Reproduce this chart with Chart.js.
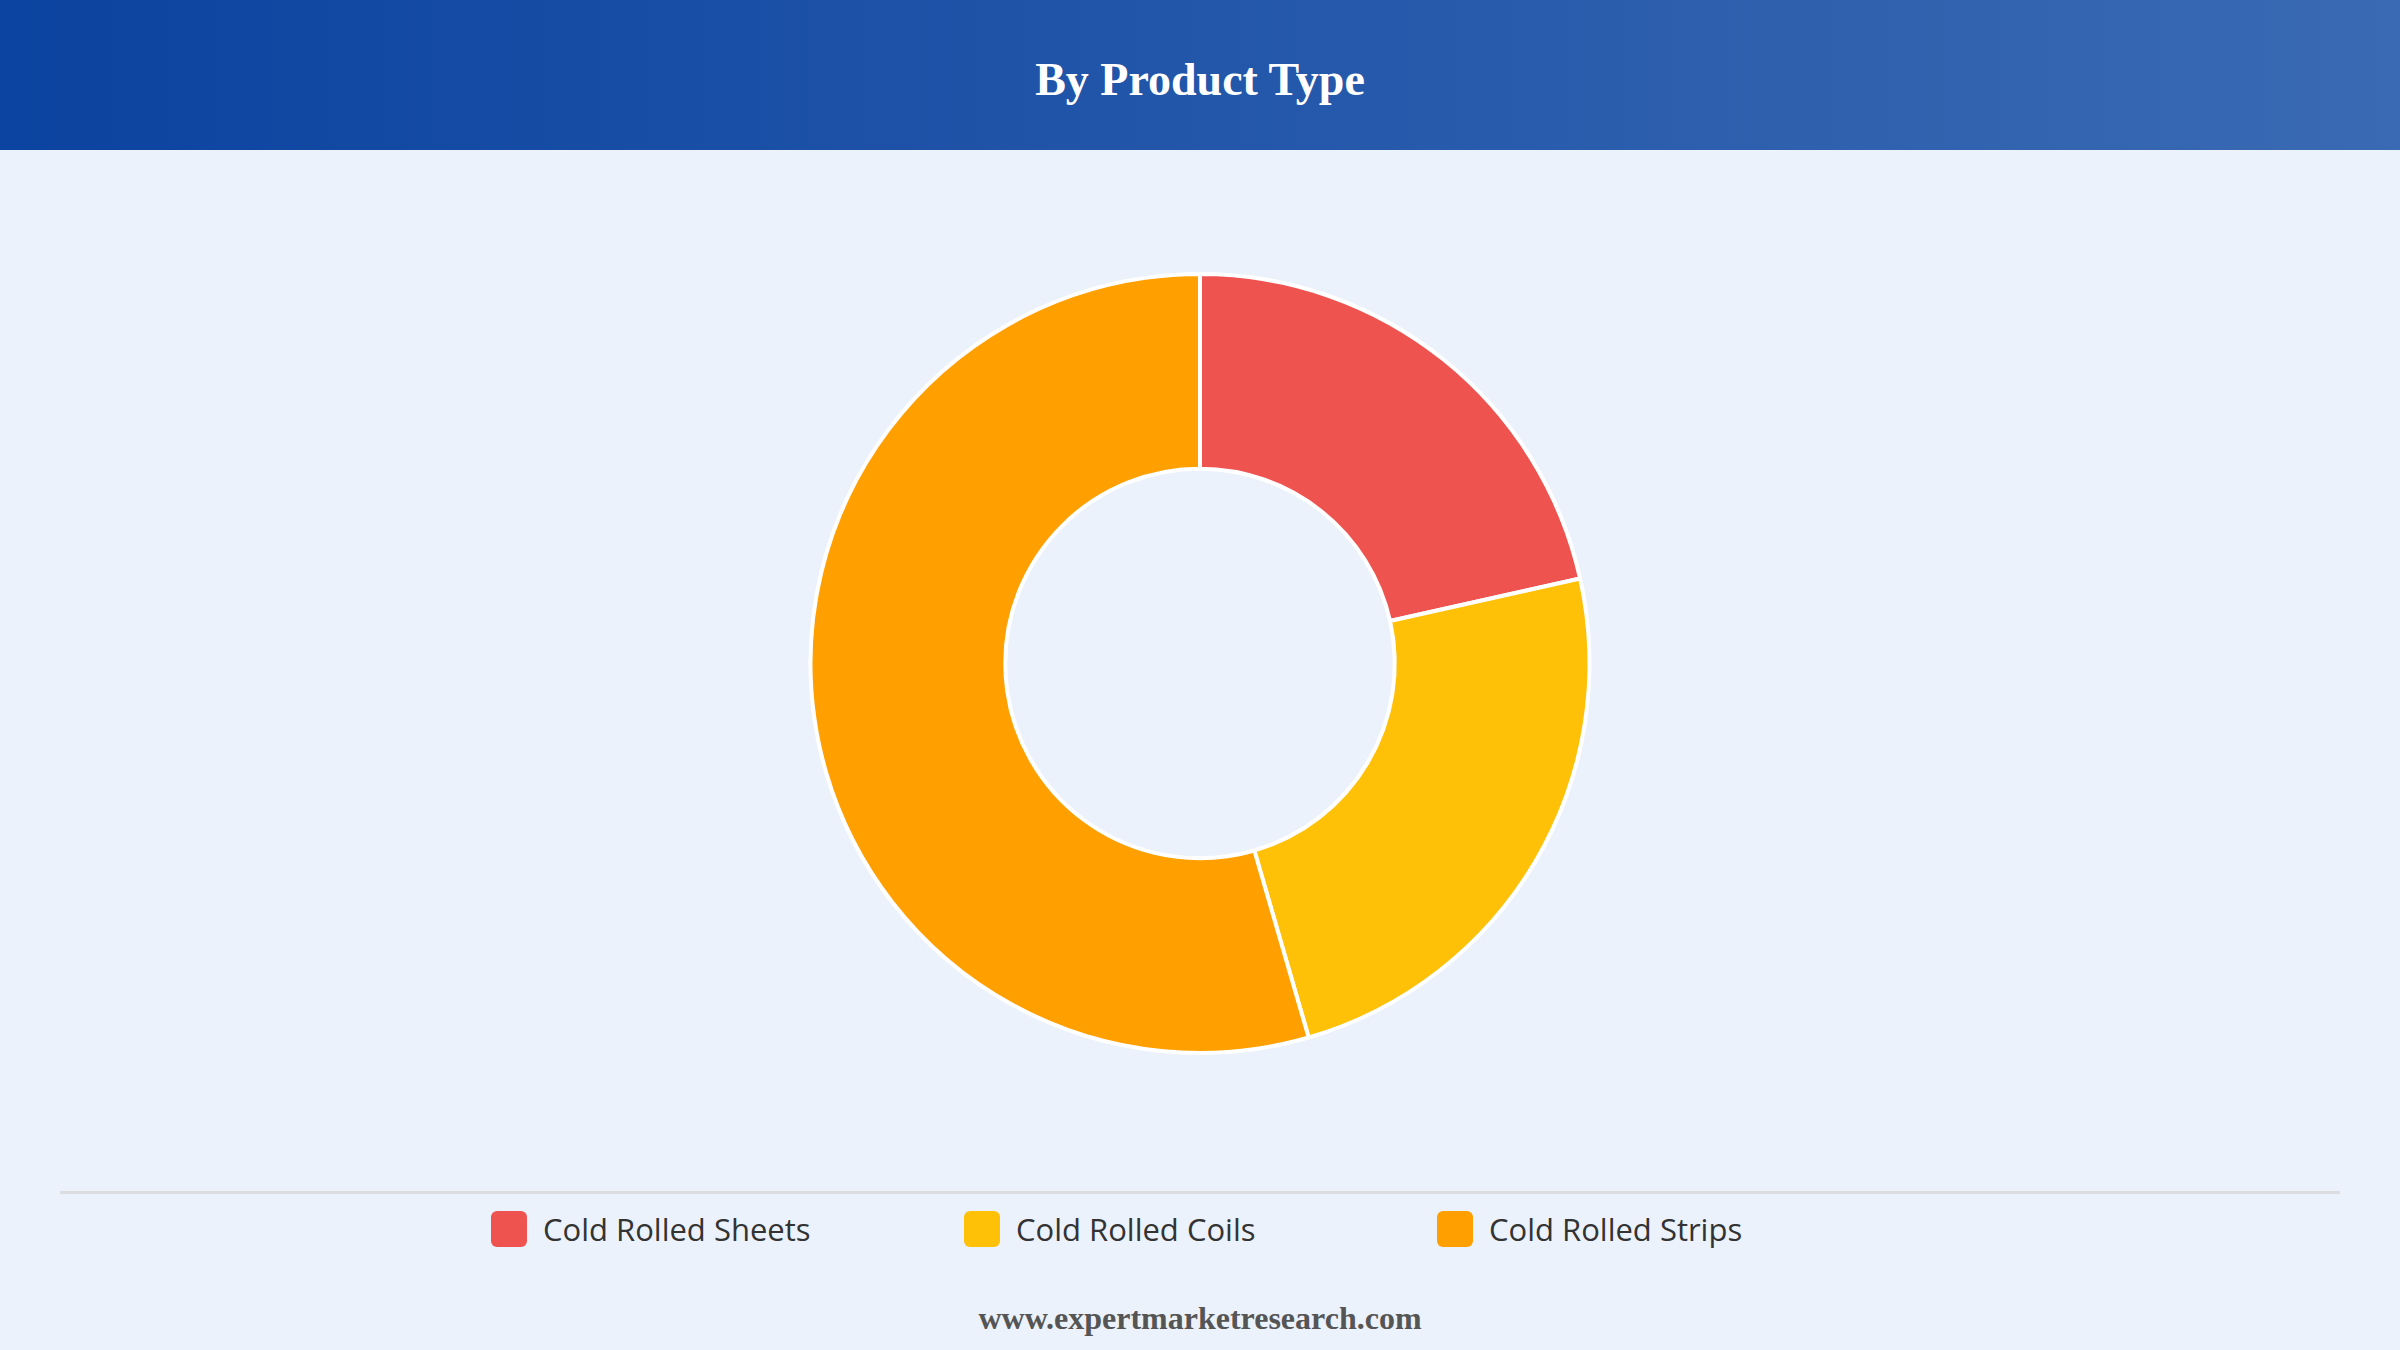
<!DOCTYPE html>
<html><head><meta charset="utf-8">
<script src="https://cdn.jsdelivr.net/npm/chart.js@4"></script>
<style>
html,body{margin:0;padding:0;width:2400px;height:1350px;background:#EBF2FB;overflow:hidden;font-family:"Liberation Serif",serif;}
#hdr{position:absolute;left:0;top:0;width:2400px;height:150px;background:linear-gradient(90deg,#0B43A0,#3A6AB3);color:#fff;font-weight:bold;font-size:46px;text-align:center;line-height:160px;}
#wrap{position:absolute;left:0;top:272px;width:2400px;height:783px;}
#sep{position:absolute;left:60px;top:1191px;width:2280px;height:3px;background:#dcdde0;}
#leg{position:absolute;left:0;top:1208px;width:2400px;height:42px;}
.it{position:absolute;top:0;height:42px;display:flex;align-items:center;font-family:"Open Sans",sans-serif;font-size:31px;color:#333;white-space:nowrap;}
.bx{width:36px;height:36px;border-radius:6px;margin-right:16px;}
#ftr{position:absolute;left:0;top:1300px;width:2400px;text-align:center;font-weight:bold;font-size:32px;color:#555;}
</style></head><body>
<div id="hdr">By Product Type</div>
<div id="wrap"><canvas id="c"></canvas></div>
<div id="sep"></div>
<div id="leg"></div>
<div id="ftr">www.expertmarketresearch.com</div>
<script>
const categories=["Cold Rolled Sheets","Cold Rolled Coils","Cold Rolled Strips"];
const values=[21.5,24,54.5];
const colors=["#EF5350","#FFC107","#FFA000"];
const legX=[491,964,1437];
const leg=document.getElementById('leg');
categories.forEach((c,i)=>{const d=document.createElement('div');d.className='it';d.style.left=legX[i]+'px';
d.innerHTML='<div class="bx" style="background:'+colors[i]+'"></div><span>'+c+'</span>';leg.appendChild(d);});
new Chart(document.getElementById('c'),{
type:'doughnut',
data:{labels:categories,datasets:[{data:values,backgroundColor:colors,borderColor:'#fff',borderWidth:4}]},
options:{responsive:true,maintainAspectRatio:false,animation:false,cutout:'50%',
layout:{padding:0},
plugins:{tooltip:{enabled:false},legend:{display:false}}}
});
</script></body></html>
